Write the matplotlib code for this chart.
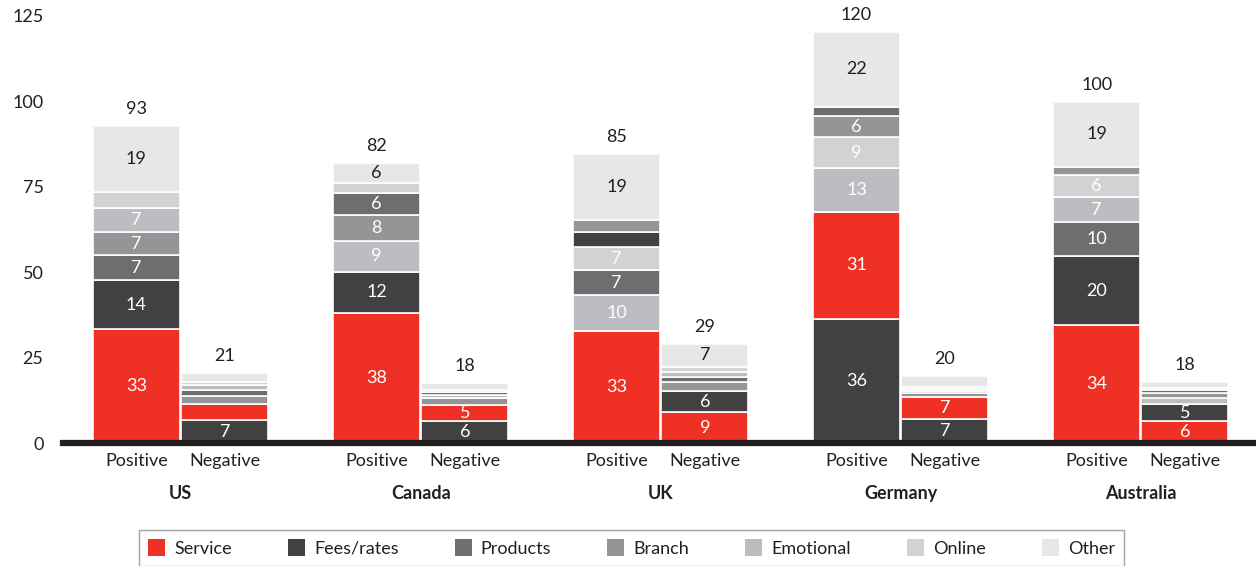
import matplotlib.pyplot as plt
from matplotlib.patches import Patch
from matplotlib.transforms import blended_transform_factory

plt.rcParams['font.family'] = ['Lato', 'DejaVu Sans']

countries = ["US", "Canada", "UK", "Germany", "Australia"]
sides = ["Positive", "Negative"]
categories = ["Service", "Fees/rates", "Products", "Branch", "Emotional", "Online", "Other"]

# values per bar: US+, US-, Canada+, Canada-, UK+, UK-, Germany+, Germany-, Australia+, Australia-
service   = [33.3, 4.6, 38.1, 4.9, 32.9, 9.0, 31.2, 6.6, 34.4, 6.3]
fees      = [14.4, 6.7, 12.1, 6.3, 4.6, 6.1, 36.4, 7.0, 20.3, 5.2]
products  = [7.2, 1.8, 6.3, 0.8, 7.3, 1.6, 2.8, 0.7, 10.0, 0.9]
branch    = [7.0, 2.4, 7.7, 1.9, 3.3, 2.7, 6.1, 1.0, 2.4, 1.3]
emotional = [6.9, 1.4, 8.9, 0.9, 10.3, 1.5, 12.9, 0.6, 7.3, 1.7]
online    = [4.6, 0.9, 2.9, 0.7, 6.8, 1.3, 9.0, 0.5, 6.4, 0.6]
other     = [19.4, 2.8, 6.0, 2.2, 19.4, 6.9, 21.9, 3.3, 19.1, 2.0]

series = [service, fees, products, branch, emotional, online, other]
colors = ["#ee3124", "#414142", "#6d6e70", "#959597", "#bcbdc0", "#d1d2d4", "#e6e7e8"]
txt = "#231f20"

fig = plt.figure(figsize=(12.56, 5.66), dpi=100)
ax = fig.add_axes([63 / 1256, 1 - 443 / 566, 1 - 63 / 1256, 427 / 566])

width = 0.3625
off = 0.184
for j in range(len(service)):
    g, s = divmod(j, 2)
    x = g - off if s == 0 else g + off
    vals = [ser[j] for ser in series]
    # stack largest first, "Other" always on top
    order = sorted(range(6), key=lambda k: -vals[k]) + [6]
    bottom = 0
    for k in order:
        v = vals[k]
        ax.bar(x, v, width, bottom=bottom, color=colors[k], edgecolor="white", linewidth=1.2)
        if v >= 4.8:
            ax.text(x, bottom + v / 2, f"{v:.0f}", ha="center", va="center", fontsize=13,
                    color=txt if k == 6 else "white")
        bottom += v
    ax.annotate(f"{bottom:.0f}", (x, bottom), xytext=(0, 12), textcoords="offset points",
                ha="center", va="center", fontsize=13, color=txt)

trans = blended_transform_factory(ax.transData, ax.transAxes)
for g, c in enumerate(countries):
    ax.text(g - off, -0.043, sides[0], transform=trans, ha="center", va="center", fontsize=13, color=txt)
    ax.text(g + off, -0.043, sides[1], transform=trans, ha="center", va="center", fontsize=13, color=txt)
    ax.text(g, -0.118, c, transform=trans, ha="center", va="center", fontsize=13,
            fontweight="bold", color=txt)

ax.set_xlim(-0.49, 4.48)
ax.set_ylim(0, 125)
ax.set_yticks([0, 25, 50, 75, 100, 125])
ax.set_xticks([])
ax.tick_params(axis="y", length=0, pad=14, labelsize=13, labelcolor=txt)
for sp in ["top", "right", "left"]:
    ax.spines[sp].set_visible(False)
ax.spines["bottom"].set_linewidth(4.5)
ax.spines["bottom"].set_color(txt)
ax.spines["bottom"].set_zorder(5)

handles = [Patch(facecolor=c, edgecolor="none", label=l) for c, l in zip(colors, categories)]
leg = fig.legend(handles=handles, loc="upper center", bbox_to_anchor=(631.5 / 1256, 1 - 530 / 566),
                 ncol=7, fontsize=13, frameon=True, fancybox=False, edgecolor="#8c8c8c",
                 handlelength=0.95, handleheight=1.05, handletextpad=0.5, columnspacing=3.1,
                 borderpad=0.5, borderaxespad=0)
leg.get_frame().set_linewidth(1.0)
for t in leg.get_texts():
    t.set_color(txt)

fig.savefig("out.png", dpi=100)
